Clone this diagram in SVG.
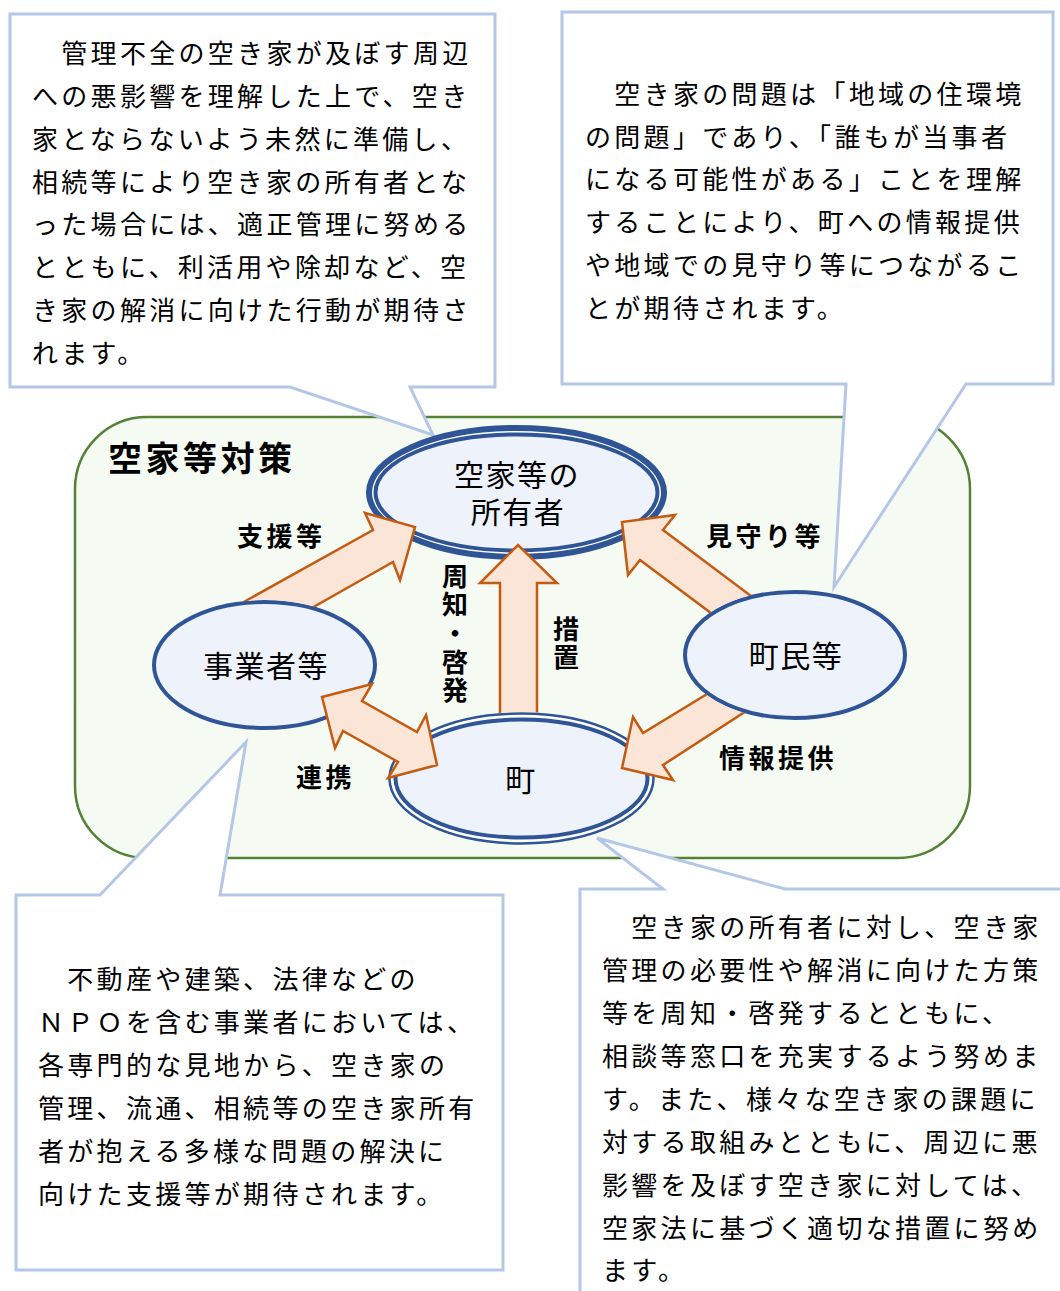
<svg xmlns="http://www.w3.org/2000/svg" width="1060" height="1291" viewBox="0 0 1060 1291">
<defs>
<style>
.callout{fill:#ffffff;stroke:#b4c7e7;stroke-width:3;stroke-linejoin:miter}
.ct{font-family:"Noto Sans CJK JP","Noto Sans",sans-serif;font-size:26px;letter-spacing:3.3px;fill:#000}
.node{fill:#eef2fb;stroke:#2f5597;stroke-width:4}
.gapfill{fill:#ffffff;stroke:#2f5597}
.nt{font-family:"Noto Sans CJK JP","Noto Sans",sans-serif;font-size:30px;letter-spacing:1.5px;fill:#000;text-anchor:middle}
.arrow{fill:#fbe5d6;stroke:#c55a11;stroke-width:2.5;stroke-linejoin:miter}
.lbl{font-family:"Noto Sans CJK JP","Noto Sans",sans-serif;font-size:26px;font-weight:700;letter-spacing:3.5px;fill:#000}
.vl{font-family:"Noto Sans CJK JP","Noto Sans",sans-serif;font-size:26px;font-weight:700;letter-spacing:2.6px;fill:#000;writing-mode:vertical-rl}
.title{font-family:"Noto Sans CJK JP","Noto Sans",sans-serif;font-size:34px;font-weight:700;letter-spacing:3.5px;fill:#000}
</style>
<mask id="m-jigyo" maskUnits="userSpaceOnUse" x="0" y="0" width="1060" height="1291">
<rect x="0" y="0" width="1060" height="1291" fill="#fff"/>
<ellipse cx="264.5" cy="665" rx="112.5" ry="65" fill="#000"/>
</mask>
<mask id="m-chomin" maskUnits="userSpaceOnUse" x="0" y="0" width="1060" height="1291">
<rect x="0" y="0" width="1060" height="1291" fill="#fff"/>
<ellipse cx="795" cy="655" rx="112" ry="65" fill="#000"/>
</mask>
<mask id="m-cho" maskUnits="userSpaceOnUse" x="0" y="0" width="1060" height="1291">
<rect x="0" y="0" width="1060" height="1291" fill="#fff"/>
<ellipse cx="521.5" cy="778.5" rx="133.5" ry="66.5" fill="#000"/>
</mask>
</defs>

<g id="frame">
<rect x="75" y="417" width="895" height="441" rx="72" ry="72" fill="#f5faf2" stroke="#548235" stroke-width="2.5"/>
<text class="title" x="108" y="471">空家等対策</text>
</g>

<g id="callout-owner">
<polygon class="callout" points="10,14 495,14 495,387 410,387 433,435 290,387 10,387"/>
<text class="ct">
<tspan x="32" y="63">　管理不全の空き家が及ぼす周辺</tspan>
<tspan x="32" y="106">への悪影響を理解した上で、空き</tspan>
<tspan x="32" y="149">家とならないよう未然に準備し、</tspan>
<tspan x="32" y="192">相続等により空き家の所有者とな</tspan>
<tspan x="32" y="234">った場合には、適正管理に努める</tspan>
<tspan x="32" y="277">とともに、利活用や除却など、空</tspan>
<tspan x="32" y="320">き家の解消に向けた行動が期待さ</tspan>
<tspan x="32" y="363">れます。</tspan>
</text>
</g>

<g id="callout-residents">
<polygon class="callout" points="562,12 1053,12 1053,384 966,384 834,587 846,384 562,384"/>
<text class="ct">
<tspan x="585" y="104">　空き家の問題は「地域の住環境</tspan>
<tspan x="585" y="147">の問題」であり、「誰もが当事者</tspan>
<tspan x="585" y="189">になる可能性がある」ことを理解</tspan>
<tspan x="585" y="232">することにより、町への情報提供</tspan>
<tspan x="585" y="275">や地域での見守り等につながるこ</tspan>
<tspan x="585" y="318">とが期待されます。</tspan>
</text>
</g>

<g id="callout-business">
<polygon class="callout" points="16,895 100,895 246,742 220,895 503,895 503,1270 16,1270"/>
<text class="ct">
<tspan x="38" y="989">　不動産や建築、法律などの</tspan>
<tspan x="38" y="1032">ＮＰＯを含む事業者においては、</tspan>
<tspan x="38" y="1075">各専門的な見地から、空き家の</tspan>
<tspan x="38" y="1118">管理、流通、相続等の空き家所有</tspan>
<tspan x="38" y="1161">者が抱える多様な問題の解決に</tspan>
<tspan x="38" y="1204">向けた支援等が期待されます。</tspan>
</text>
</g>

<g id="callout-town">
<polygon class="callout" points="580,889 663,889 597,838 785,889 1075,889 1075,1300 580,1300"/>
<text class="ct">
<tspan x="602" y="937">　空き家の所有者に対し、空き家</tspan>
<tspan x="602" y="980">管理の必要性や解消に向けた方策</tspan>
<tspan x="602" y="1023">等を周知・啓発するとともに、</tspan>
<tspan x="602" y="1066">相談等窓口を充実するよう努めま</tspan>
<tspan x="602" y="1109">す。また、様々な空き家の課題に</tspan>
<tspan x="602" y="1152">対する取組みとともに、周辺に悪</tspan>
<tspan x="602" y="1195">影響を及ぼす空き家に対しては、</tspan>
<tspan x="602" y="1238">空家法に基づく適切な措置に努め</tspan>
<tspan x="602" y="1280">ます。</tspan>
</text>
</g>

<g id="node-owner">
<ellipse class="gapfill" cx="516.5" cy="492.5" rx="147.5" ry="64.5" stroke-width="6"/>
<ellipse class="node" cx="516.5" cy="492.5" rx="141" ry="58" stroke-width="2"/>
<text class="nt"><tspan x="517" y="486">空家等の</tspan><tspan x="518" y="523">所有者</tspan></text>
</g>

<g id="node-business">
<ellipse class="node" cx="264.5" cy="665" rx="110.5" ry="63"/>
<text class="nt" x="266" y="677">事業者等</text>
</g>

<g id="node-residents">
<ellipse class="node" cx="795" cy="655" rx="110" ry="63"/>
<text class="nt" x="796" y="667">町民等</text>
</g>

<g id="node-town">
<ellipse class="gapfill" cx="521.5" cy="778.5" rx="132" ry="65" stroke-width="2.5"/>
<ellipse class="node" cx="521.5" cy="778.5" rx="126" ry="59" stroke-width="2.5"/>
<text class="nt" x="521" y="791">町</text>
</g>

<g id="connectors">
<path class="arrow" mask="url(#m-jigyo)" d="M224,613 L373,530 L365,513 L415,527 L400,580 L393,562 L287,622 Z"/>
<path class="arrow" mask="url(#m-chomin)" d="M771,611 L663,530 L675,515 L622,522 L628,575 L640,560 L731,628 Z"/>
<path class="arrow" mask="url(#m-chomin)" d="M730,680 L643,733 L633,717 L622,768 L673,780 L663,765 L768,697 Z"/>
<path class="arrow" mask="url(#m-cho)" d="M500,745 L500,583 L480,583 L518,545 L557,583 L537,583 L537,745 Z"/>
<path class="arrow" d="M322,697 L372,684 L362,701 L417,732 L426,715 L437,765 L388,778 L398,762 L343,731 L335,748 Z"/>
<text class="lbl" x="237" y="546">支援等</text>
<text class="lbl" x="706" y="546">見守り等</text>
<text class="lbl" x="296" y="787">連携</text>
<text class="lbl" x="719" y="768">情報提供</text>
<text class="vl" x="455" y="563">周知・啓発</text>
<text class="vl" x="566" y="616">措置</text>
</g>
</svg>
